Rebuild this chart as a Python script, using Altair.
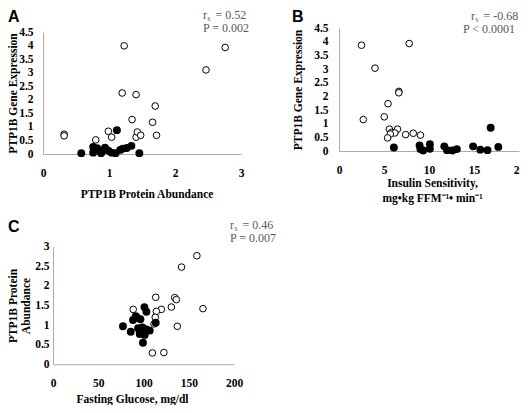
import altair as alt
import pandas as pd

# ---------------- data ----------------
# Panel A: PTP1B protein abundance (x) vs PTP1B gene expression (y)
a_open_x = [0.32, 0.32, 0.80, 0.99, 1.04, 1.20, 1.23, 1.35, 1.41, 1.41, 1.43, 1.48, 1.66, 1.70, 1.72, 2.47, 2.76]
a_open_y = [0.73, 0.67, 0.52, 0.84, 0.62, 2.25, 3.99, 1.27, 2.19, 0.62, 0.81, 0.69, 1.17, 1.77, 0.69, 3.10, 3.93]
a_fill_x = [0.58, 0.76, 0.76, 0.82, 0.88, 0.88, 0.94, 0.99, 1.04, 1.10, 1.12, 1.17, 1.21, 1.27, 1.34, 1.46]
a_fill_y = [0.03, 0.26, 0.05, 0.21, 0.12, 0.03, 0.23, 0.12, 0.05, 0.03, 0.88, 0.15, 0.20, 0.22, 0.30, 0.03]

# Panel B: insulin sensitivity (x) vs PTP1B gene expression (y)
b_open_x = [2.5, 7.8, 4.0, 6.65, 6.65, 5.45, 2.7, 5.03, 5.6, 6.5, 5.85, 6.2, 5.7, 5.4, 7.4, 8.25, 9.05]
b_open_y = [3.87, 3.93, 3.03, 2.18, 2.13, 1.73, 1.15, 1.25, 0.80, 0.80, 0.68, 0.66, 0.62, 0.48, 0.60, 0.65, 0.58]
b_fill_x = [6.1, 8.95, 9.05, 9.35, 10.1, 10.1, 11.7, 12.0, 12.6, 13.1, 14.9, 15.7, 16.5, 16.85, 17.7]
b_fill_y = [0.13, 0.20, 0.07, 0.02, 0.25, 0.08, 0.17, 0.03, 0.02, 0.07, 0.17, 0.05, 0.03, 0.85, 0.15]

# Panel C: fasting glucose (x) vs PTP1B protein abundance (y)
c_open_x = [159, 142, 113.5, 134.5, 136.3, 165.7, 88.6, 119.7, 114.2, 130.8, 113, 111.6, 137.4, 109.8, 122.5]
c_open_y = [2.77, 2.48, 1.71, 1.70, 1.65, 1.42, 1.40, 1.40, 1.35, 1.46, 1.20, 1.03, 0.97, 0.29, 0.30]
c_fill_x = [101, 103.2, 88.4, 92.8, 96.6, 91.4, 77.3, 85.9, 94, 98.8, 103.2, 106.9, 95.8, 101.3, 99.4, 113.5]
c_fill_y = [1.46, 1.34, 1.13, 1.19, 1.15, 1.23, 0.97, 0.83, 0.92, 0.94, 0.89, 0.86, 0.77, 0.75, 0.55, 1.06]

# tick values
a_x_ticks = [0, 1, 2, 3]
a_y_ticks = [0, 0.5, 1, 1.5, 2, 2.5, 3, 3.5, 4, 4.5]
b_x_ticks = [0, 5, 10, 15, 20]
b_y_ticks = [0, 0.5, 1, 1.5, 2, 2.5, 3, 3.5, 4, 4.5]
c_x_ticks = [0, 50, 100, 150, 200]
c_y_ticks = [0, 0.5, 1, 1.5, 2, 2.5, 3]

# texts
panel_letters = ["A", "B", "C"]
rs_values = ["= 0.52", "= -0.68", "= 0.46"]
p_values = ["P = 0.002", "P < 0.0001", "P = 0.007"]
a_x_title = "PTP1B Protein Abundance"
a_y_title = "PTP1B Gene Expression"
b_x_title = ["Insulin Sensitivity,", "mg\u2022kg FFM\u207b\u00b9\u2022 min\u207b\u00b9"]
b_y_title = "PTP1B Gene Expression"
c_x_title = "Fasting Glucose, mg/dl"
c_y_title = ["PTP1B  Protein", "Abundance"]

# ---------------- layout / style ----------------
W, H = 512, 397
SERIF = "Liberation Serif"
SANS = "Liberation Sans"
AXIS_GRAY = "#ababab"
NOTE_GRAY = "#5a5a5a"
LABEL_SIZE = 11.5
TITLE_SIZE = 11.5


def x_axis(values, axis_y, title, title_x, title_y, line_h=15):
    return alt.Axis(
        orient="bottom", offset=axis_y - H, values=values, title=title,
        grid=False, ticks=False, tickSize=0, domainColor=AXIS_GRAY, domainWidth=1,
        labelFont=SERIF, labelFontWeight="bold", labelFontSize=LABEL_SIZE, labelColor="black",
        labelBaseline="middle", labelPadding=19, labelExpr="'' + datum.value",
        labelOverlap=False, labelFlush=False, labelBound=False,
        titleFont=SERIF, titleFontWeight="bold", titleFontSize=TITLE_SIZE, titleColor="black",
        titleX=title_x, titleY=title_y, titleBaseline="middle", titleAlign="center",
        titleLineHeight=line_h,
    )


def y_axis(values, axis_x, title, title_x, title_y, pad, line_h=13):
    return alt.Axis(
        orient="left", offset=-axis_x, values=values, title=title,
        grid=False, ticks=False, tickSize=0, domainColor=AXIS_GRAY, domainWidth=1,
        labelFont=SERIF, labelFontWeight="bold", labelFontSize=LABEL_SIZE, labelColor="black",
        labelPadding=pad, labelExpr="'' + datum.value",
        labelOverlap=False, labelFlush=False, labelBound=False,
        titleFont=SERIF, titleFontWeight="bold", titleFontSize=TITLE_SIZE, titleColor="black",
        titleAngle=-90, titleX=title_x, titleY=title_y, titleBaseline="middle", titleAlign="center",
        titleLineHeight=line_h,
    )


def panel(ox, oy, fx, fy, xdom, xrange, ydom, yrange, xax, yax):
    xs = alt.Scale(domain=xdom, range=xrange, nice=False, zero=False)
    ys = alt.Scale(domain=ydom, range=yrange, nice=False, zero=False)
    xe = alt.X("x:Q", scale=xs, axis=xax)
    ye = alt.Y("y:Q", scale=ys, axis=yax)
    o = alt.Chart(pd.DataFrame({"x": ox, "y": oy})).mark_circle(
        fill="white", stroke="black", strokeWidth=1, size=44, opacity=1
    ).encode(x=xe, y=ye)
    f = alt.Chart(pd.DataFrame({"x": fx, "y": fy})).mark_circle(
        color="black", size=62, opacity=1
    ).encode(x=xe, y=ye)
    return alt.layer(o, f)


def txt(s, x, y, size, font=SERIF, weight="normal", color=NOTE_GRAY, align="left"):
    return alt.Chart(pd.DataFrame({"t": [s]})).mark_text(
        align=align, baseline="alphabetic", font=font, fontSize=size,
        fontWeight=weight, color=color
    ).encode(x=alt.value(x), y=alt.value(y), text="t:N")


def rs_note(x, y, value, p, p_dx=0):
    return [
        txt("r", x, y, 12),
        txt("s", x + 4.5, y + 2, 7.5),
        txt(value, x + 12.5, y, 12),
        txt(p, x + p_dx, y + 13, 12),
    ]


# Panel A : plot x 35..233, y 146..24
pA = panel(
    a_open_x, a_open_y, a_fill_x, a_fill_y,
    [0, 3], [35, 233], [0, 4.5], [146, 24],
    x_axis(a_x_ticks, 146, a_x_title, 138.5, 40),
    y_axis(a_y_ticks, 35, a_y_title, -29.5, 85, 10),
)

# Panel B : plot x 331..511, y 143..20
pB = panel(
    b_open_x, b_open_y, b_fill_x, b_fill_y,
    [0, 20], [331, 511], [0, 4.5], [143, 20],
    x_axis(b_x_ticks, 143, b_x_title, 424, 32),
    y_axis(b_y_ticks, 331, b_y_title, -41, 81.5, 11),
)

# Panel C : plot x 45..226, y 356.3..238.7
pC = panel(
    c_open_x, c_open_y, c_fill_x, c_fill_y,
    [0, 200], [45, 226], [0, 3], [356.3, 238.7],
    x_axis(c_x_ticks, 356.3, c_x_title, 124, 35),
    y_axis(c_y_ticks, 45, c_y_title, -39.5, 297.5, 4),
)

texts = (
    [
        txt(panel_letters[0], 0, 14, 16, SANS, "bold", "black"),
        txt(panel_letters[1], 284, 14, 16, SANS, "bold", "black"),
        txt(panel_letters[2], 0, 224, 16, SANS, "bold", "black"),
    ]
    + rs_note(195, 11, rs_values[0], p_values[0])
    + rs_note(463, 12, rs_values[1], p_values[1], p_dx=-8)
    + rs_note(222, 221, rs_values[2], p_values[2])
)

chart = alt.layer(pA, pB, pC, *texts).resolve_scale(
    x="independent", y="independent"
).resolve_axis(
    x="independent", y="independent"
).properties(
    width=W, height=H, padding=0,
    autosize=alt.AutoSizeParams(type="none"),
    background="white",
).configure_view(stroke=None)

chart.save("out.html", embed_options={"renderer": "svg", "actions": False})
